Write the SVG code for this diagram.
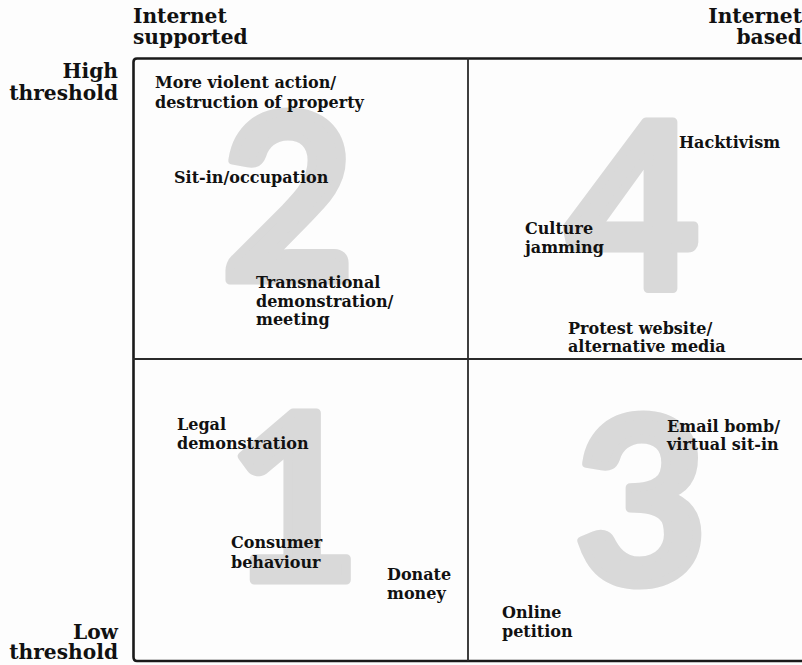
<svg xmlns="http://www.w3.org/2000/svg" width="802" height="665" viewBox="0 0 802 665">
<style>
.num{font-family:Lato,"Open Sans",sans-serif;font-weight:700;font-size:230px;fill:#d9d9d9;stroke:#d9d9d9;stroke-width:9;stroke-linejoin:round;text-anchor:middle}
.lbl{font-family:"DejaVu Serif","Liberation Serif",serif;font-weight:700;font-size:16px;fill:#111}
.hdr{font-family:"DejaVu Serif","Liberation Serif",serif;font-weight:700;font-size:20.2px;fill:#111}
.r{text-anchor:end}
.frame{fill:none;stroke:#1a1a1a;stroke-width:2.6}
.div{fill:none;stroke:#2a2a2a;stroke-width:1.8}
</style>
<rect width="802" height="665" fill="#fdfdfd"/>
<g id="numerals">
<text class="num" x="288" y="280">2</text>
<text class="num" x="633" y="289">4</text>
<text class="num" x="294" y="580">1</text>
<text class="num" x="641" y="583">3</text>
</g>
<g id="grid">
<path class="frame" d="M806 58.5 H137 Q133.5 58.5 133.5 62 V657 Q133.5 661 137 661 H806"/>
<line class="div" x1="468" y1="58" x2="468" y2="661"/>
<line class="div" x1="133" y1="359" x2="802" y2="359"/>
</g>
<g id="axis-labels">
<text class="hdr" x="133" y="23">Internet</text>
<text class="hdr" x="133" y="44">supported</text>
<text class="hdr r" x="802" y="23">Internet</text>
<text class="hdr r" x="802" y="44">based</text>
<text class="hdr r" x="118" y="78">High</text>
<text class="hdr r" x="118" y="100">threshold</text>
<text class="hdr r" x="118" y="639">Low</text>
<text class="hdr r" x="118" y="659">threshold</text>
</g>
<g id="q2">
<text class="lbl" x="155" y="88">More violent action/</text>
<text class="lbl" x="155" y="107.5">destruction of property</text>
<text class="lbl" x="174" y="183">Sit-in/occupation</text>
<text class="lbl" x="256" y="288">Transnational</text>
<text class="lbl" x="256" y="306.5">demonstration/</text>
<text class="lbl" x="256" y="325">meeting</text>
</g>
<g id="q4">
<text class="lbl" x="679" y="148">Hacktivism</text>
<text class="lbl" x="525" y="234">Culture</text>
<text class="lbl" x="525" y="253">jamming</text>
<text class="lbl" x="568" y="333.5">Protest website/</text>
<text class="lbl" x="568" y="352">alternative media</text>
</g>
<g id="q1">
<text class="lbl" x="177" y="430">Legal</text>
<text class="lbl" x="177" y="449">demonstration</text>
<text class="lbl" x="231" y="548">Consumer</text>
<text class="lbl" x="231" y="567.5">behaviour</text>
<text class="lbl" x="387" y="580">Donate</text>
<text class="lbl" x="387" y="599">money</text>
</g>
<g id="q3">
<text class="lbl" x="667" y="432">Email bomb/</text>
<text class="lbl" x="667" y="450">virtual sit-in</text>
<text class="lbl" x="502" y="618">Online</text>
<text class="lbl" x="502" y="637">petition</text>
</g>
</svg>
